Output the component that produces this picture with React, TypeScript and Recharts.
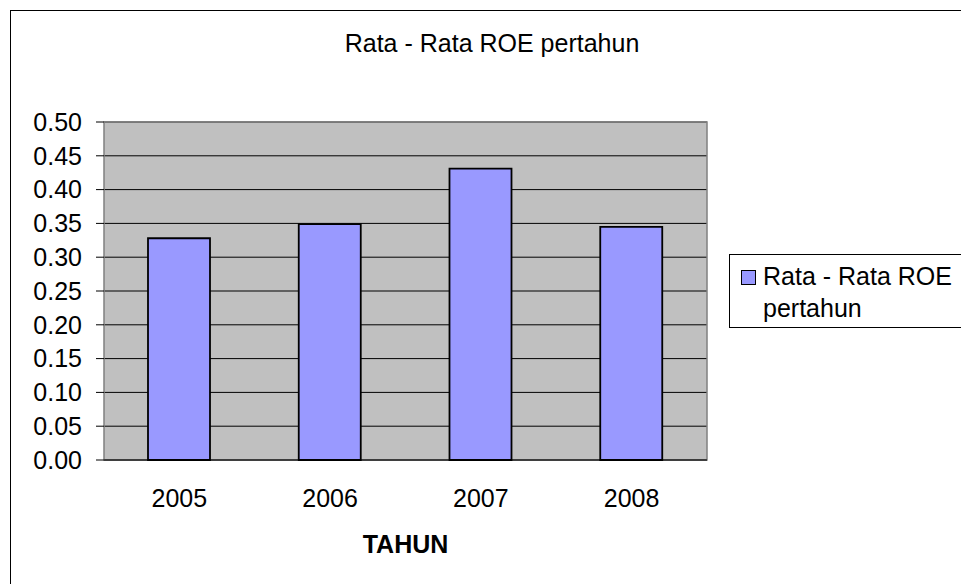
import React from 'react';
import { BarChart, Bar, XAxis, YAxis, CartesianGrid, ReferenceArea, Legend } from 'recharts';

const categories = ['2005', '2006', '2007', '2008'];
const roeValues = [0.328, 0.349, 0.431, 0.345];
const yTicks = [0, 0.05, 0.1, 0.15, 0.2, 0.25, 0.3, 0.35, 0.4, 0.45, 0.5];
const boundaryTicks = [0, 1, 2, 3, 4];
const seriesName = 'Rata - Rata ROE pertahun';
const chartTitle = 'Rata - Rata ROE pertahun';
const xTitle = 'TAHUN';

const data = categories.map((c, i) => ({ year: c, roe: roeValues[i], pos: i + 0.5 }));

const FONT = '"Liberation Sans", Arial, sans-serif';

const LegendBox = () => (
  <div
    style={{
      position: 'relative',
      width: 250,
      height: 74,
      border: '1px solid #000',
      boxSizing: 'border-box',
      background: '#fff',
      fontFamily: FONT,
      fontSize: 25,
      color: '#000',
    }}
  >
    <div
      style={{
        position: 'absolute',
        left: 11,
        top: 15,
        width: 13,
        height: 13,
        background: '#9999FF',
        border: '1px solid #000',
      }}
    />
    <div style={{ position: 'absolute', left: 33, top: 5, lineHeight: '32px', whiteSpace: 'nowrap' }}>
      Rata - Rata ROE
      <br />
      pertahun
    </div>
  </div>
);

export default function App() {
  return (
    <div style={{ position: 'fixed', left: 0, top: 0, width: 961, height: 584, overflow: 'hidden', background: '#fff', fontFamily: FONT }}>
      <div
        style={{
          position: 'absolute',
          left: 10,
          top: 10,
          width: 980,
          height: 600,
          border: '1px solid #000',
        }}
      />
      <div style={{ position: 'absolute', left: 0, top: 0 }}>
        <BarChart
          width={961}
          height={584}
          data={data}
          margin={{ top: 122, right: 254, bottom: 94, left: 0 }}
          barSize={62}
        >
          <CartesianGrid
            xAxisId="c"
            yAxisId="y"
            vertical={false}
            stroke="#000"
            strokeWidth={1}
            fill="#C0C0C0"
            fillOpacity={1}
          />
          <XAxis
            xAxisId="a"
            type="number"
            dataKey="pos"
            domain={[0, 4]}
            ticks={boundaryTicks}
            allowDataOverflow
            height={0}
            tick={false}
            axisLine={false}
            tickLine={{ stroke: '#808080' }}
            tickSize={8}
          />
          <XAxis
            xAxisId="c"
            dataKey="year"
            type="category"
            height={30}
            tickLine={false}
            tickSize={0}
            tickMargin={29}
            axisLine={{ stroke: '#000' }}
            tick={{ fill: '#000', fontSize: 25, fontFamily: FONT }}
          />
          <YAxis
            yAxisId="y"
            domain={[0, 0.5]}
            ticks={yTicks}
            width={104}
            tickSize={8}
            tickMargin={14}
            axisLine={false}
            tickLine={{ stroke: '#000' }}
            tickFormatter={(v: number) => v.toFixed(2)}
            tick={{ fill: '#000', fontSize: 25, fontFamily: FONT }}
            interval={0}
          />
          <ReferenceArea
            xAxisId="a"
            yAxisId="y"
            x1={0}
            x2={4}
            y1={0}
            y2={0.5}
            fill="none"
            stroke="#808080"
            strokeWidth={1.5}
            ifOverflow="visible"
          />
          <Bar
            xAxisId="c"
            yAxisId="y"
            dataKey="roe"
            name={seriesName}
            fill="#9999FF"
            stroke="#000"
            strokeWidth={1.8}
            isAnimationActive={false}
          />
          <Legend
            layout="horizontal"
            verticalAlign="middle"
            align="center"
            width={250}
            wrapperStyle={{ left: 729, top: 254, width: 250, height: 74 }}
            content={() => <LegendBox />}
          />
        </BarChart>
      </div>
      <div
        style={{
          position: 'absolute',
          left: 0,
          top: 31,
          width: 984,
          textAlign: 'center',
          fontSize: 25,
          lineHeight: '25px',
          color: '#000',
          whiteSpace: 'nowrap',
        }}
      >
        {chartTitle}
      </div>
      <div
        style={{
          position: 'absolute',
          left: 0,
          top: 532,
          width: 811,
          textAlign: 'center',
          fontSize: 25,
          fontWeight: 'bold',
          lineHeight: '25px',
          color: '#000',
        }}
      >
        {xTitle}
      </div>
    </div>
  );
}
